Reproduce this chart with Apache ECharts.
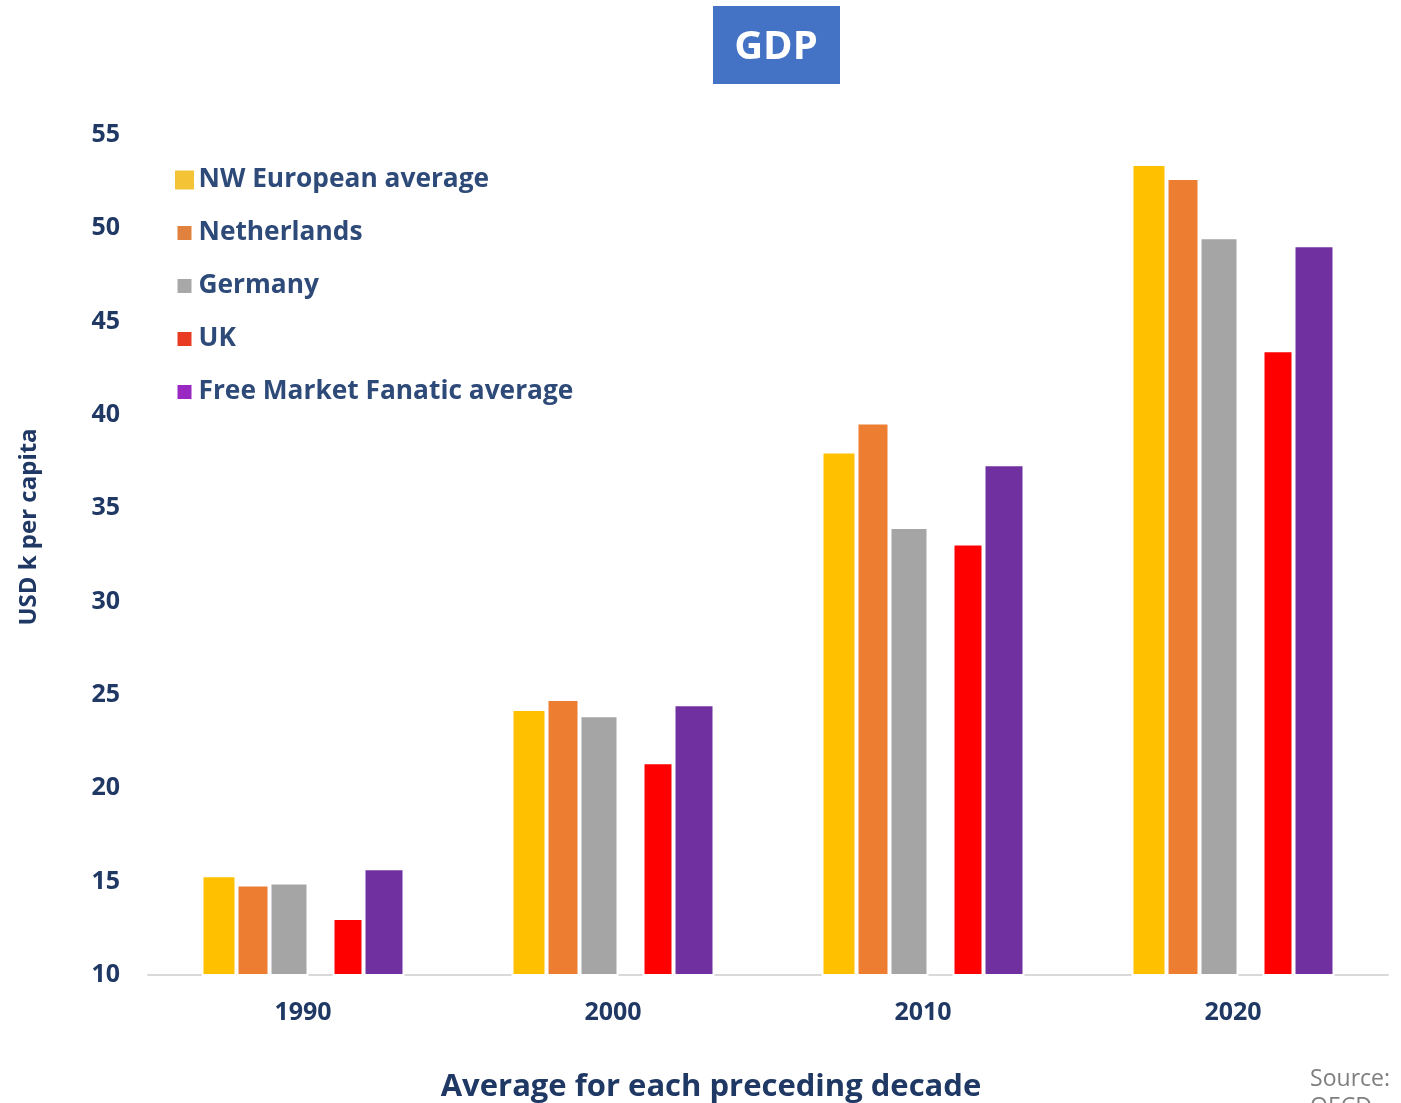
<!DOCTYPE html>
<html><head><meta charset="utf-8">
<script src="https://cdn.jsdelivr.net/npm/echarts@6/dist/echarts.min.js"></script>
<style>html,body{margin:0;padding:0;background:#fff}#c{width:1401px;height:1103px}</style>
</head><body><div id="c"></div>
<script>
const categories = ['1990', '2000', '2010', '2020'];
const nwEurope = [15.35, 24.25, 38.05, 53.45];
const netherlands = [14.85, 24.78, 39.6, 52.7];
const germany = [14.95, 23.92, 34.0, 49.52];
const uk = [13.05, 21.4, 33.12, 43.47];
const fmfAverage = [15.72, 24.5, 37.36, 49.09];
const spacer = [null, null, null, null];
const yTicks = { min: 10, max: 55, interval: 5 };

const FONT = 'Open Sans';
const NAVY = '#1F3864';

function bar(name, data, color, width) {
  return {
    name: name, type: 'bar', data: data, barWidth: width, barGap: '0%',
    itemStyle: { color: color, borderColor: '#ffffff', borderWidth: 2 },
    silent: true
  };
}

const chart = echarts.init(document.getElementById('c'), null, { renderer: 'canvas' });
chart.setOption({
  animation: false,
  backgroundColor: '#ffffff',
  grid: { left: 148, right: 13, top: 135, bottom: 128, containLabel: false, outerBoundsMode: 'none' },
  legend: {
    orient: 'vertical', left: 175, top: 165, itemGap: 23, padding: 0,
    itemWidth: 14, itemHeight: 14, icon: 'rect', selectedMode: false,
    textStyle: { fontFamily: FONT, fontWeight: 'bold', fontSize: 26.3, color: '#2E4A78', lineHeight: 30, padding: [0, 0, 0, 2] },
    data: [
      { name: 'NW European average', itemStyle: { color: '#F5C336', borderColor: '#F5C336', borderWidth: 5 } },
      { name: 'Netherlands', itemStyle: { color: '#E0813E', borderWidth: 0 } },
      { name: 'Germany', itemStyle: { color: '#A8A8A8', borderWidth: 0 } },
      { name: 'UK', itemStyle: { color: '#E83B22', borderWidth: 0 } },
      { name: 'Free Market Fanatic average', itemStyle: { color: '#9A28C2', borderWidth: 0 } }
    ]
  },
  xAxis: {
    type: 'category', data: categories,
    axisLine: { show: true, lineStyle: { color: '#D9D9D9', width: 2 } },
    axisTick: { show: false },
    axisLabel: { margin: 25, fontFamily: FONT, fontWeight: 'bold', fontSize: 25, color: NAVY }
  },
  yAxis: {
    type: 'value', min: yTicks.min, max: yTicks.max, interval: yTicks.interval,
    axisLine: { show: false }, axisTick: { show: false }, splitLine: { show: false },
    axisLabel: { margin: 28, fontFamily: FONT, fontWeight: 'bold', fontSize: 25, color: NAVY }
  },
  series: [
    bar('NW European average', nwEurope, '#FFC000', 35),
    bar('Netherlands', netherlands, '#ED7D31', 33),
    bar('Germany', germany, '#A5A5A5', 39),
    { name: 'spacer', type: 'bar', data: spacer, barWidth: 24, barGap: '0%', silent: true },
    bar('UK', uk, '#FF0000', 31),
    bar('Free Market Fanatic average', fmfAverage, '#7030A0', 41)
  ],
  graphic: [
    { type: 'rect', left: 713, top: 6, shape: { width: 127, height: 78 }, style: { fill: '#4472C4' } },
    { type: 'text', x: 776, y: 48, style: { text: 'GDP', fill: '#ffffff', font: 'bold 40px "Open Sans"', align: 'center', verticalAlign: 'middle' } },
    { type: 'text', x: 29, y: 527, rotation: Math.PI / 2, style: { text: 'USD k per capita', fill: NAVY, font: 'bold 24px "Open Sans"', align: 'center', verticalAlign: 'middle' } },
    { type: 'text', x: 711, y: 1087, style: { text: 'Average for each preceding decade', fill: NAVY, font: 'bold 31px "Open Sans"', align: 'center', verticalAlign: 'middle' } },
    { type: 'text', right: 11, top: 1065, style: { text: 'Source:\nOECD', fill: '#7F7F7F', font: '23px "Open Sans"', lineHeight: 28 } }
  ]
});
</script></body></html>
